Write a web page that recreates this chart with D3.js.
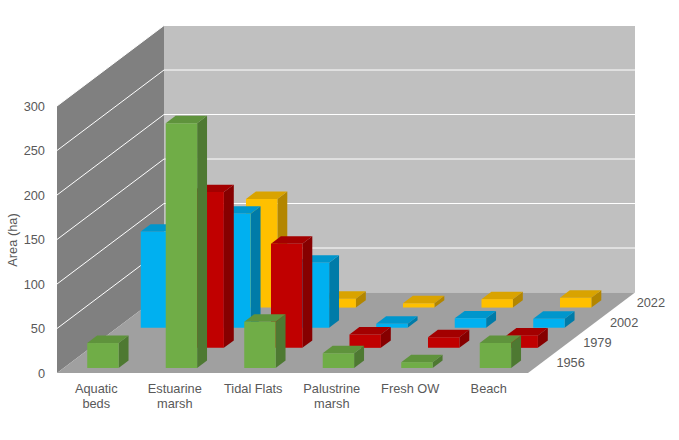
<!DOCTYPE html>
<html>
<head>
<meta charset="UTF-8">
<style>
  body { margin: 0; background: #fff; }
  text { font-family: "Liberation Sans", Arial, sans-serif; fill: #595959; }
</style>
</head>
<body>
<svg id="chart" width="679" height="440"></svg>
<script src="https://d3js.org/d3.v7.min.js"></script>
<script>

// categories and series
var categories = ["Aquatic beds", "Estuarine marsh", "Tidal Flats", "Palustrine marsh", "Fresh OW", "Beach"];
var catLabels = [["Aquatic", "beds"], ["Estuarine", "marsh"], ["Tidal Flats"], ["Palustrine", "marsh"], ["Fresh OW"], ["Beach"]];
var years = ["1956", "1979", "2002", "2022"];
var v1956 = [28, 275, 52, 16.5, 6.5, 28];
var v1979 = [0, 175, 117, 15, 12, 14];
var v2002 = [108, 128, 73, 4.5, 10.5, 10];
var v2022 = [0, 122, 10, 5, 9.5, 11];
var yTicks = [0, 50, 100, 150, 200, 250, 300];

var seriesValues = [v1956, v1979, v2002, v2022];
var front = ["#70AD47", "#C00000", "#00B0F0", "#FFC000"];
var topC = ["#5F933C", "#A30000", "#0096CC", "#D9A300"];
var sideC = ["#4E7932", "#860000", "#007BA8", "#B38600"];

var svg = d3.select("#chart");
var fs = 12.8;

// oblique projection
var x0 = 57, y0 = 373, W = 471, H = 267, DX = 107, DY = 80.5;

var x = d3.scaleBand().domain(categories).range([0, W]);
var z = d3.scaleBand().domain(years).range([0, 1]);
var y = d3.scaleLinear().domain([0, 300]).range([0, H]);

function P(px, py, pz) {
  return [x0 + px + pz * DX, y0 - py - pz * DY];
}
function poly(pts) {
  return "M" + pts.map(function(p){ return p[0] + "," + p[1]; }).join("L") + "Z";
}

// walls
svg.append("path").attr("d", poly([P(0,0,0), P(0,0,1), P(0,H,1), P(0,H,0)])).attr("fill", "#808080");
svg.append("path").attr("d", poly([P(0,0,1), P(W,0,1), P(W,H,1), P(0,H,1)])).attr("fill", "#C0C0C0");
svg.append("path").attr("d", poly([P(0,0,0), P(W,0,0), P(W,0,1), P(0,0,1)])).attr("fill", "#A0A0A0");

// gridlines
yTicks.slice(1).forEach(function(t) {
  var a = P(0, y(t), 0), b = P(0, y(t), 1), c = P(W, y(t), 1);
  svg.append("path")
    .attr("d", "M" + a + "L" + b + "L" + c)
    .attr("fill", "none").attr("stroke", "#fff").attr("stroke-width", 1);
});

// bars, back rows first
var barW = x.bandwidth() * 0.4;
var rowW = z.bandwidth();
for (var s = years.length - 1; s >= 0; s--) {
  var zf = z(years[s]) + rowW * 0.25, zb = zf + rowW * 0.37;
  seriesValues[s].forEach(function(v, i) {
    if (!v) return;
    var xl = x(categories[i]) + (x.bandwidth() - barW) / 2, xr = xl + barW, h = y(v);
    var g = svg.append("g");
    g.append("path").attr("d", poly([P(xr,0,zf), P(xr,0,zb), P(xr,h,zb), P(xr,h,zf)])).attr("fill", sideC[s]);
    g.append("path").attr("d", poly([P(xl,h,zf), P(xr,h,zf), P(xr,h,zb), P(xl,h,zb)])).attr("fill", topC[s]);
    g.append("path").attr("d", poly([P(xl,0,zf), P(xr,0,zf), P(xr,h,zf), P(xl,h,zf)])).attr("fill", front[s]);
  });
}

// value axis labels
yTicks.forEach(function(t) {
  var p = P(0, y(t), 0);
  svg.append("text").attr("x", p[0] - 12).attr("y", p[1] + 4.5)
    .attr("text-anchor", "end").attr("font-size", fs).text(t);
});

svg.append("text")
  .attr("transform", "translate(17,240) rotate(-90)")
  .attr("text-anchor", "middle").attr("font-size", fs).text("Area (ha)");

// category labels
categories.forEach(function(c, i) {
  var cx = x0 + x(c) + x.bandwidth() / 2;
  var t = svg.append("text").attr("text-anchor", "middle").attr("font-size", fs);
  catLabels[i].forEach(function(line, j) {
    t.append("tspan").attr("x", cx).attr("y", 392.5 + j * 15).text(line);
  });
});

// depth labels
years.forEach(function(yr) {
  var p = P(W, 0, z(yr) + rowW / 2);
  svg.append("text").attr("x", p[0] + 15).attr("y", p[1] + 4.5)
    .attr("font-size", fs).text(yr);
});

</script>
</body>
</html>
